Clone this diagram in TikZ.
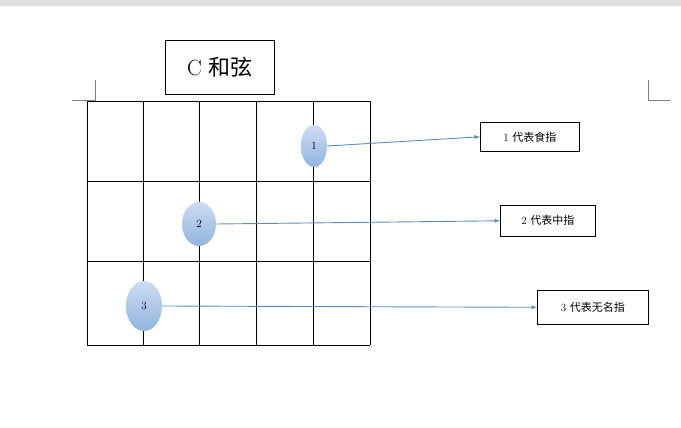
\documentclass[tikz,border=0pt]{standalone}
\usepackage{fontspec}
\usetikzlibrary{shapes.geometric}
\newfontfamily\cjk{Noto Sans CJK SC}
\definecolor{ftop}{RGB}{205,220,242}
\definecolor{fbot}{RGB}{145,180,222}
\begin{document}
\begin{tikzpicture}[x=1pt,y=-1pt,
  lbl/.style={draw=black,line width=0.6pt,anchor=north west,inner sep=0pt,font=\fontsize{11}{13}\selectfont},
  finger/.style={ellipse,draw=none,top color=ftop,bottom color=fbot,font=\fontsize{11}{13}\selectfont},
  arr/.style={-latex,draw={rgb,255:red,95;green,140;blue,190},line width=0.9pt},
  grid/.style={line width=0.6pt}]
\useasboundingbox (0,0) rectangle (681,428);
\fill[gray!25] (0,0) rectangle (681,6);
\draw[gray,line width=0.5pt] (95,80)--(95,100)--(72,100);
\draw[gray,line width=0.5pt] (648,80)--(648,100)--(670,100);
\node[draw,line width=0.6pt,minimum width=109pt,minimum height=54pt,anchor=north west,inner sep=0pt,font=\fontsize{22}{26}\selectfont] (title) at (165,40) {C {\cjk 和弦}};
\foreach \x in {87,143,199,256,313,370} \draw[grid] (\x,101)--(\x,345);
\foreach \y in {101,181,261,345} \draw[grid] (87,\y)--(370,\y);
\node[finger,minimum width=26pt,minimum height=42pt] (f1) at (314,146) {1};
\node[finger,minimum width=34pt,minimum height=44pt] (f2) at (199,224) {2};
\node[finger,minimum width=36pt,minimum height=50pt] (f3) at (144,306) {3};
\node[lbl,minimum width=99pt,minimum height=29pt] (l1) at (480,122) {1 {\cjk 代表食指}};
\node[lbl,minimum width=95pt,minimum height=31pt] (l2) at (500,205) {2 {\cjk 代表中指}};
\node[lbl,minimum width=111pt,minimum height=34pt] (l3) at (537,290) {3 {\cjk 代表无名指}};
\draw[arr] (f1.east) -- (l1.west);
\draw[arr] (f2.east) -- (l2.west);
\draw[arr] (f3.east) -- (l3.west);
\end{tikzpicture}
\end{document}
